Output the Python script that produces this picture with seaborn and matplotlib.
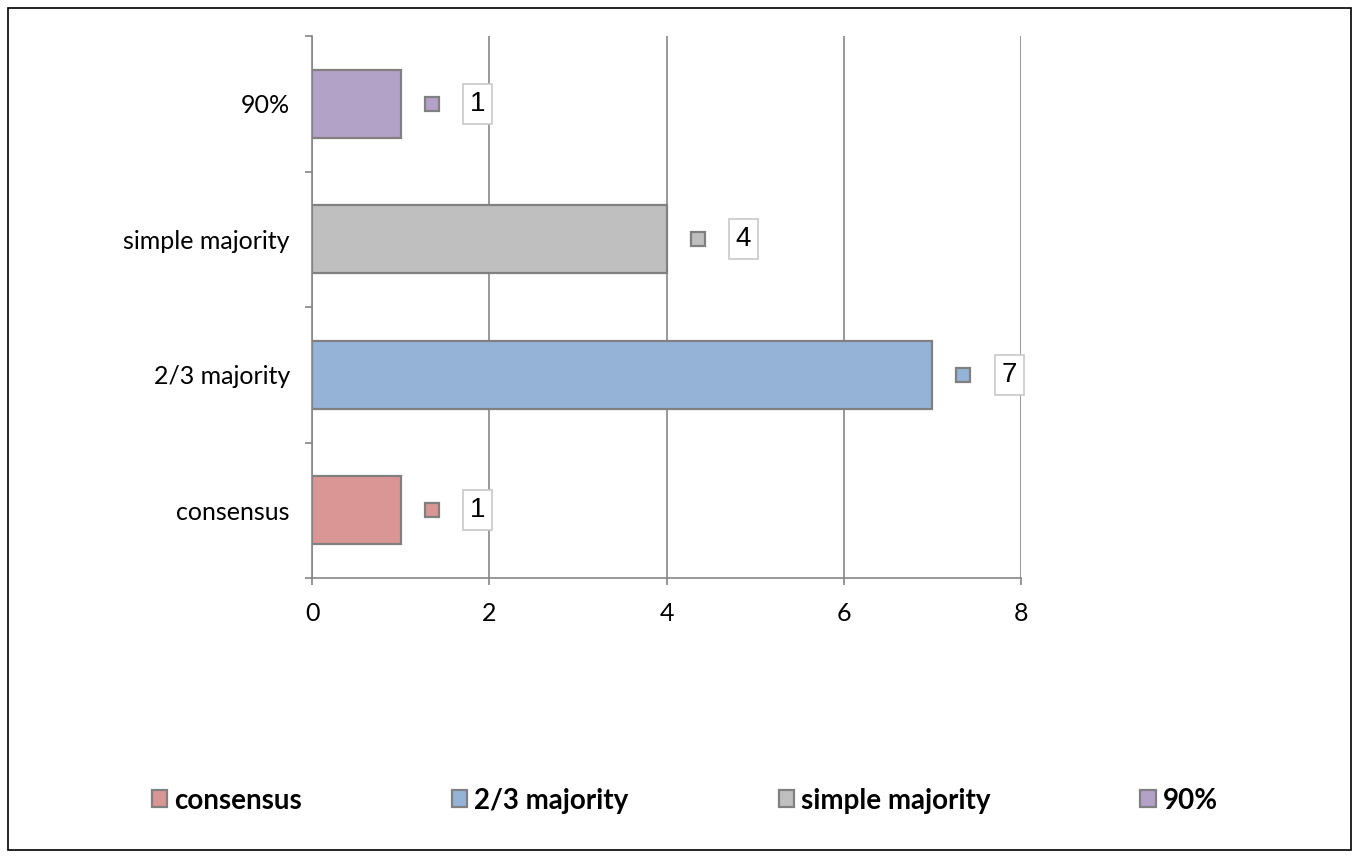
import pandas as pd
import seaborn as sns
import matplotlib.pyplot as plt
from matplotlib.patches import Patch, Rectangle

# dane
categories = ["consensus", "2/3 majority", "simple majority", "90%"]
counts = [1, 7, 4, 1]
colors = ["#D99694", "#95B3D7", "#BFBFBF", "#B3A2C7"]

data = pd.DataFrame({"category": categories, "count": counts})
palette = dict(zip(categories, colors))
order = categories[::-1]  # consensus na dole

sns.set_style("white")
plt.rcParams["font.family"] = ["Lato", "DejaVu Sans"]
plt.rcParams["text.color"] = "black"
plt.rcParams["xtick.labelcolor"] = "black"
plt.rcParams["ytick.labelcolor"] = "black"

fig = plt.figure(figsize=(13.59, 8.58), dpi=100)
ax = fig.add_axes([0.2296, 0.3263, 0.5217, 0.6317])

sns.barplot(data=data, x="count", y="category", hue="category", order=order,
            hue_order=categories, palette=palette, width=0.5, legend=False,
            edgecolor="#808080", linewidth=1.6, saturation=1, ax=ax)

ax.set_xlim(0, 8)
ax.set_ylim(3.5, -0.5)
ax.set_xticks([0, 2, 4, 6, 8])
ax.set_xlabel("")
ax.set_ylabel("")
ax.xaxis.grid(True, color="#868686", linewidth=1.2)
ax.set_axisbelow(True)
for s in ["top", "right"]:
    ax.spines[s].set_visible(False)
for s in ["left", "bottom"]:
    ax.spines[s].set_color("#868686")
    ax.spines[s].set_linewidth(1.2)

ax.set_yticks([-0.5, 0.5, 1.5, 2.5, 3.5], minor=True)
ax.tick_params(axis="y", which="major", length=0, pad=16, labelsize=18)
ax.tick_params(axis="y", which="minor", length=5, width=1.2, color="#868686", direction="out", left=True)
ax.tick_params(axis="x", which="major", length=5, width=1.2, color="#868686", direction="out",
               bottom=True, labelsize=18, pad=12)

# etykiety danych
for cat, val, col in zip(categories, counts, colors):
    y = order.index(cat)
    ax.plot(val + 0.35, y, marker="s", markersize=10, markerfacecolor=col,
            markeredgecolor="#808080", markeredgewidth=1.6, clip_on=False)
    ax.text(val + 0.87, y, str(val), ha="center", va="center", fontsize=20,
            family=["Liberation Sans", "DejaVu Sans"],
            bbox=dict(boxstyle="square,pad=0.25", facecolor="white", edgecolor="#C8C8C8", linewidth=1.2))

# legenda
handles = [Patch(facecolor=c, edgecolor="#808080", linewidth=1.6, label=l) for l, c in zip(categories, colors)]
fig.legend(handles=handles, loc="center", bbox_to_anchor=(0.504, 0.067), ncol=4, frameon=False,
           prop={"weight": "bold", "size": 20}, handlelength=0.55, handleheight=0.55,
           handletextpad=0.25, columnspacing=5.4)

# ramka wykresu
fig.patches.append(Rectangle((8 / 1359, 8 / 858), 1343 / 1359, 842 / 858, transform=fig.transFigure,
                             fill=False, edgecolor="black", linewidth=1.2))

plt.savefig("out.png", dpi=100)
